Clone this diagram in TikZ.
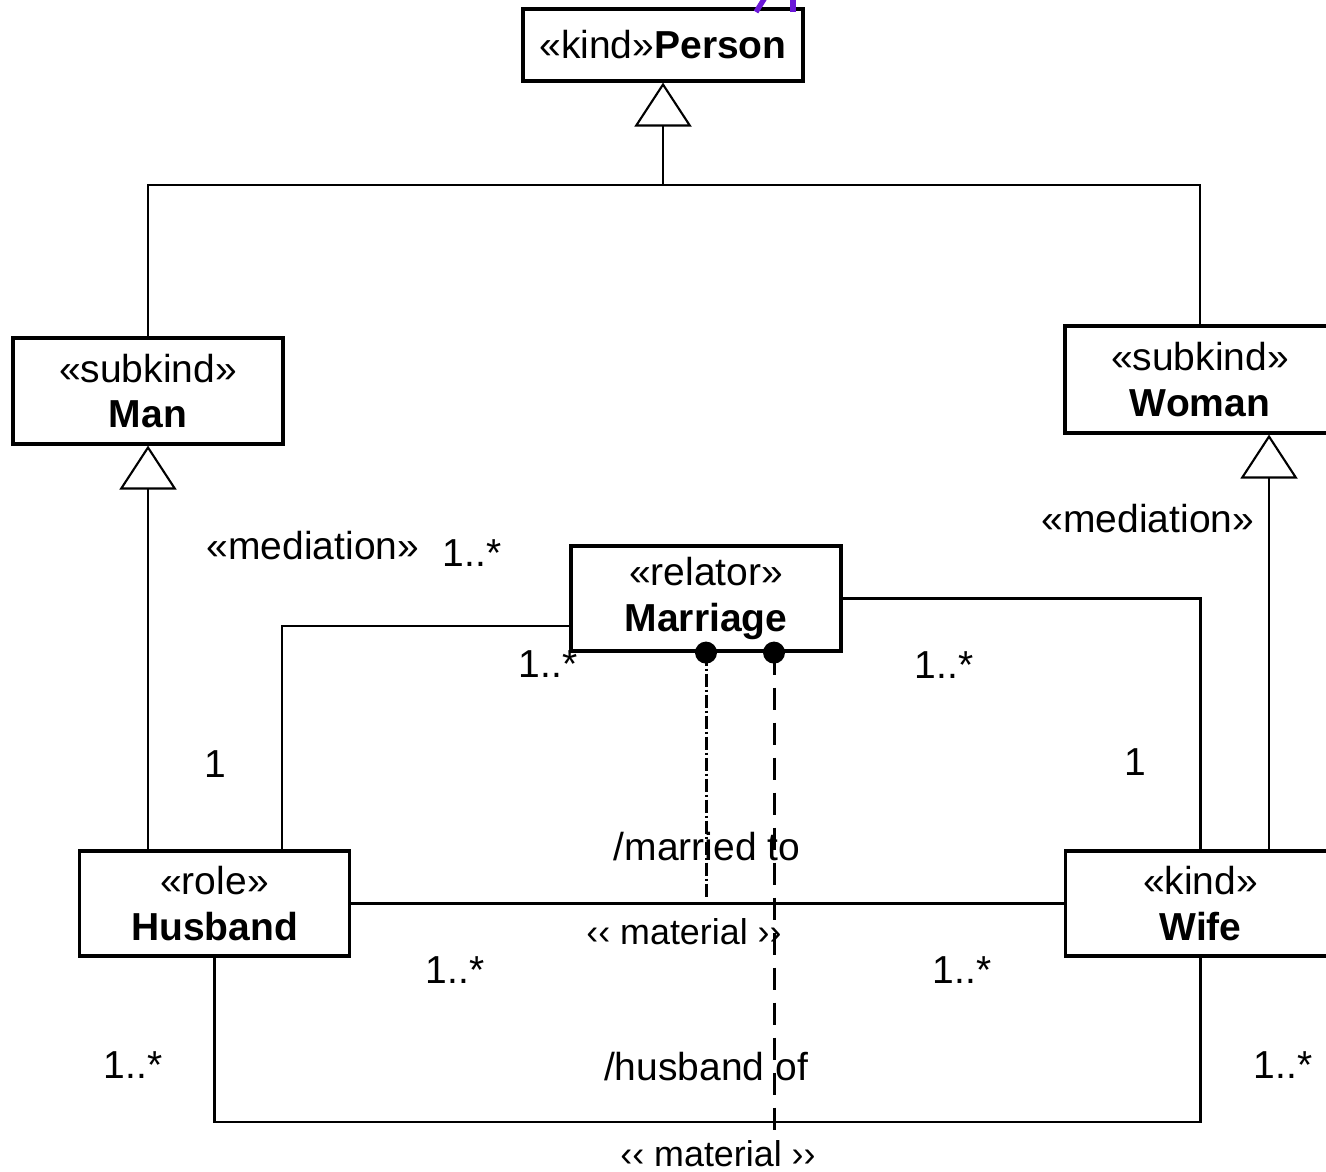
\documentclass[tikz,border=0pt]{standalone}
\usepackage{fontspec}
\setmainfont{Liberation Sans}
\usetikzlibrary{arrows.meta}

\begin{document}
\begin{tikzpicture}[
    classbox/.style={draw, line width=0.9pt, fill=white, align=center, inner sep=0pt,
        minimum width=2.7cm, minimum height=1.05cm,
        font=\fontsize{11.1}{13}\selectfont},
    assoc/.style={line width=0.6pt},
    genline/.style={assoc, -{Triangle[open,width=5.7mm,length=4.4mm]}},
    lbl/.style={inner sep=0pt, font=\fontsize{11.1}{13}\selectfont},
    matlbl/.style={inner sep=0pt, font=\fontsize{10.2}{12}\selectfont}
]
% Colors define
\definecolor{myPurple}{HTML}{6B18D8}

\useasboundingbox (0,0) rectangle (13.26,11.71);
\clip (0,0) rectangle (13.26,11.71);

% Classes
\node[classbox, minimum width=2.8cm, minimum height=0.72cm] (person) at (6.63,11.26) {«kind»\textbf{Person}};
\node[classbox, minimum height=1.06cm] (man) at (1.48,7.80) {«subkind»\\\textbf{Man}};
\node[classbox, minimum height=1.07cm] (woman) at (12.00,7.915) {«subkind»\\\textbf{Woman}};
\node[classbox] (marriage) at (7.06,5.725) {«relator»\\\textbf{Marriage}};
\node[classbox] (husband) at (2.145,2.675) {«role»\\\textbf{Husband}};
\node[classbox] (wife) at (12.005,2.675) {«kind»\\\textbf{Wife}};

% Important positions
\coordinate (join) at (6.63,9.86);
\coordinate (wgen) at (12.69,0);
\coordinate (hm) at (2.82,5.45);
\coordinate (bottom) at (0,0.49);

% Generalizations
\draw[genline] (man.north) |- (join) -- (person.south);
\draw[assoc] (woman.north) |- (join);
\draw[genline] (man.south |- husband.north) -- (man.south);
\draw[genline] (wgen |- wife.north) -- (wgen |- woman.south);

% Mediations and material relations
\draw[assoc] (hm |- husband.north) -- (hm) -- (hm -| marriage.west);
\draw[assoc] (marriage.east) -| (wife.north);
\draw[assoc] (husband.east) -- (wife.west);
\draw[assoc] (husband.south) -- (husband.south |- bottom) -| (wife.south);

% Derivation lines
\coordinate (d1) at (marriage.south);
\coordinate (d2) at ([xshift=0.68cm]marriage.south);
\draw[line width=0.85pt, dash pattern={on 0.13cm off 0.03cm on 0.02cm off 0.03cm}] (d1) -- (d1 |- 0,2.74);
\draw[line width=0.85pt, dash pattern={on 0.22cm off 0.13cm}] (d2) -- (d2 |- 0,0.33);
\foreach \n in {d1,d2}
    \fill (\n) circle[radius=0.11];

% Labels
\node[lbl] (medl) at (3.13,6.25) {«mediation»};
\node[lbl] (medr) at (11.48,6.52) {«mediation»};
\node[lbl] (m1) at (4.72,6.18) {1..*};
\node[lbl] (m2) at (5.48,5.07) {1..*};
\node[lbl] (m3) at (2.15,4.07) {1};
\node[lbl] (m4) at (9.44,5.06) {1..*};
\node[lbl] (m5) at (11.35,4.09) {1};
\node[lbl] (married) at (7.07,3.24) {/married to};
\node[matlbl] (mat1) at (6.84,2.39) {‹‹ material ››};
\node[lbl] (m6) at (4.55,2.01) {1..*};
\node[lbl] (m7) at (9.62,2.01) {1..*};
\node[lbl] (m8) at (1.33,1.06) {1..*};
\node[lbl] (husbof) at (7.06,1.04) {/husband of};
\node[lbl] (m9) at (12.83,1.06) {1..*};
\node[matlbl] (mat2) at (7.18,0.17) {‹‹ material ››};

% Purple strokes at the top
\draw[myPurple, line width=1.5pt] (7.66,11.75) -- (7.56,11.59);
\draw[myPurple, line width=1.5pt] (7.93,11.75) -- (7.93,11.59);
\end{tikzpicture}
\end{document}
